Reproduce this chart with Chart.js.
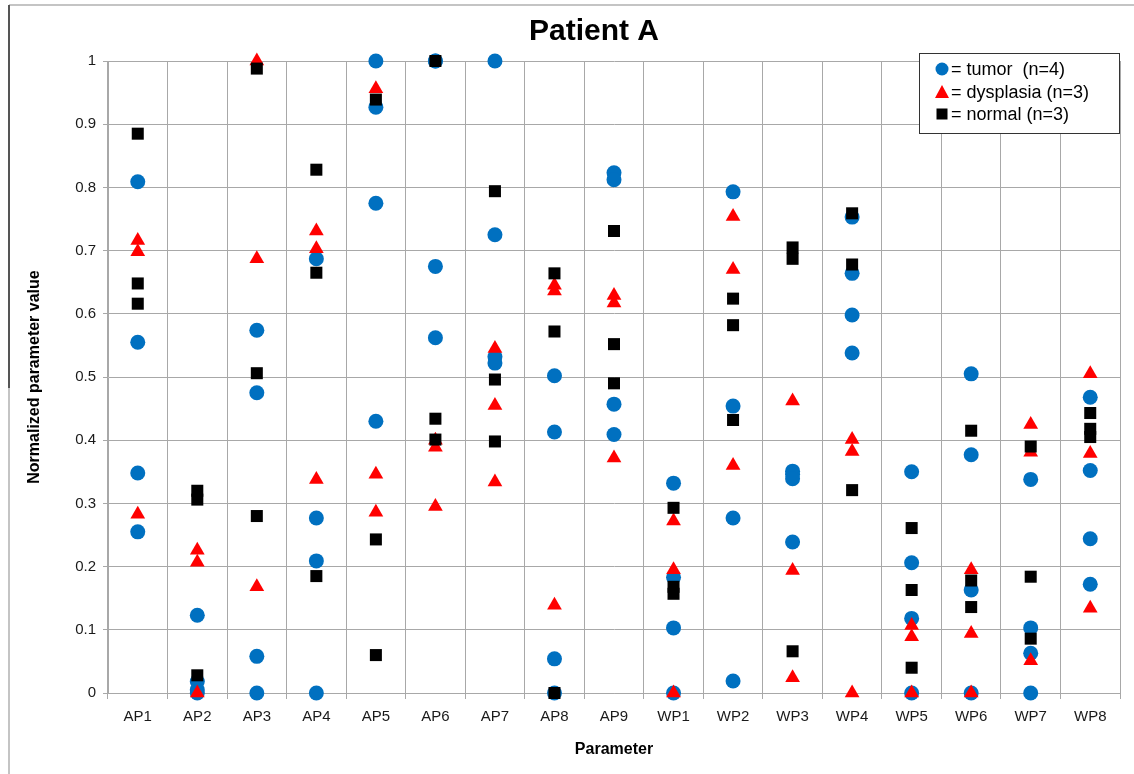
<!DOCTYPE html>
<html lang="en">
<head>
<meta charset="UTF-8">
<title>Patient A</title>
<script src="https://cdn.jsdelivr.net/npm/chart.js@4.4.0/dist/chart.umd.min.js"></script>
<style>
    body { margin: 0; background: #fff; }
    #wrap { width: 1134px; height: 774px; }
</style>
</head>
<body>
<div id="wrap"><canvas id="chart" width="1134" height="774"></canvas></div>
<script>
// categories on the x axis
const categories = ["AP1","AP2","AP3","AP4","AP5","AP6","AP7","AP8","AP9",
                    "WP1","WP2","WP3","WP4","WP5","WP6","WP7","WP8"];
const yTickLabels = ["0","0.1","0.2","0.3","0.4","0.5","0.6","0.7","0.8","0.9","1"];

// one inner list per category
const tumorValues = [
    [0.809, 0.555, 0.348, 0.255],
    [0.123, 0.018, 0.005, 0.0],
    [0.574, 0.475, 0.058, 0.0],
    [0.687, 0.277, 0.209, 0.0],
    [1.0, 0.927, 0.775, 0.430],
    [1.0, 1.0, 0.675, 0.562],
    [1.0, 0.725, 0.532, 0.522],
    [0.502, 0.413, 0.054, 0.0],
    [0.823, 0.812, 0.457, 0.409],
    [0.332, 0.183, 0.103, 0.0],
    [0.793, 0.454, 0.277, 0.019],
    [0.351, 0.346, 0.339, 0.239],
    [0.753, 0.664, 0.598, 0.538],
    [0.350, 0.206, 0.118, 0.0],
    [0.505, 0.377, 0.163, 0.0],
    [0.338, 0.103, 0.063, 0.0],
    [0.468, 0.352, 0.244, 0.172]
];
const dysplasiaValues = [
    [0.716, 0.698, 0.283],
    [0.226, 0.207, 0.0],
    [1.0, 0.687, 0.168],
    [0.731, 0.703, 0.338],
    [0.956, 0.346, 0.286],
    [0.400, 0.389, 0.295],
    [0.545, 0.455, 0.334],
    [0.645, 0.636, 0.139],
    [0.629, 0.617, 0.372],
    [0.272, 0.195, 0.0],
    [0.754, 0.670, 0.360],
    [0.462, 0.194, 0.024],
    [0.401, 0.382, 0.0],
    [0.107, 0.089, 0.0],
    [0.195, 0.094, 0.0],
    [0.425, 0.381, 0.051],
    [0.505, 0.379, 0.134]
];
const normalValues = [
    [0.885, 0.648, 0.616],
    [0.320, 0.306, 0.028],
    [0.988, 0.506, 0.280],
    [0.828, 0.665, 0.185],
    [0.939, 0.243, 0.060],
    [1.0, 0.434, 0.401],
    [0.794, 0.496, 0.398],
    [0.664, 0.572, 0.0],
    [0.731, 0.552, 0.490],
    [0.293, 0.168, 0.157],
    [0.624, 0.582, 0.432],
    [0.705, 0.687, 0.066],
    [0.759, 0.678, 0.321],
    [0.261, 0.163, 0.040],
    [0.415, 0.178, 0.136],
    [0.390, 0.184, 0.086],
    [0.443, 0.418, 0.405]
];

const legendLabels = ["= tumor  (n=4)", "= dysplasia (n=3)", "= normal (n=3)"];

function toPoints(values) {
    const pts = [];
    values.forEach((list, i) => list.forEach(v => pts.push({ x: categories[i], y: v })));
    return pts;
}

const FONT = '"Liberation Sans", Arial, sans-serif';
Chart.defaults.font.family = FONT;
Chart.defaults.color = '#1a1a1a';
const gridColor = '#a8a8a8';

// title, frame and legend box drawn on the canvas
const extras = {
    id: 'extras',
    afterDraw(chart) {
        const ctx = chart.ctx;
        ctx.save();
        // outer frame
        ctx.lineWidth = 2;
        ctx.strokeStyle = '#c4c4c4';
        ctx.beginPath(); ctx.moveTo(9, 5); ctx.lineTo(1134, 5); ctx.stroke();
        ctx.beginPath(); ctx.moveTo(9, 388); ctx.lineTo(9, 774); ctx.stroke();
        ctx.strokeStyle = '#555';
        ctx.beginPath(); ctx.moveTo(9, 5); ctx.lineTo(9, 388); ctx.stroke();

        // title
        ctx.fillStyle = '#000';
        ctx.font = 'bold 30px ' + FONT;
        ctx.textAlign = 'center';
        ctx.textBaseline = 'middle';
        ctx.fillText('Patient A', 594, 32);

        // legend
        ctx.fillStyle = '#fff';
        ctx.fillRect(919, 53, 201, 81);
        ctx.lineWidth = 1;
        ctx.strokeStyle = '#333';
        ctx.strokeRect(919.5, 53.5, 200, 80);
        const ys = [69, 92, 114];
        const mx = 942;
        ctx.fillStyle = '#0070C0';
        ctx.beginPath(); ctx.arc(mx, ys[0], 6.5, 0, Math.PI * 2); ctx.fill();
        ctx.fillStyle = '#FF0000';
        ctx.beginPath();
        ctx.moveTo(mx, ys[1] - 7); ctx.lineTo(mx + 7, ys[1] + 6); ctx.lineTo(mx - 7, ys[1] + 6);
        ctx.closePath(); ctx.fill();
        ctx.fillStyle = '#000';
        ctx.fillRect(mx - 5.5, ys[2] - 5.5, 11, 11);
        ctx.font = '18px ' + FONT;
        ctx.textAlign = 'left';
        ctx.fillStyle = '#000';
        legendLabels.forEach((t, i) => ctx.fillText(t, 951, ys[i] + 1));
        ctx.restore();
    }
};

new Chart(document.getElementById('chart'), {
    type: 'scatter',
    data: {
        datasets: [{
            label: 'tumor',
            data: toPoints(tumorValues),
            pointStyle: 'circle',
            pointRadius: 7.5,
            backgroundColor: '#0070C0',
            borderColor: '#0070C0',
            borderWidth: 0,
            order: 3,
            clip: false
        }, {
            label: 'dysplasia',
            data: toPoints(dysplasiaValues),
            pointStyle: 'triangle',
            pointRadius: 8.5,
            backgroundColor: '#FF0000',
            borderColor: '#FF0000',
            borderWidth: 0,
            order: 2,
            clip: false
        }, {
            label: 'normal',
            data: toPoints(normalValues),
            pointStyle: 'rect',
            pointRadius: 8.5,
            backgroundColor: '#000000',
            borderColor: '#000000',
            borderWidth: 0,
            order: 1,
            clip: false
        }]
    },
    options: {
        responsive: false,
        devicePixelRatio: 1,
        animation: false,
        layout: { padding: { top: 61, right: 14, left: 0, bottom: 0 } },
        plugins: {
            legend: { display: false },
            title: { display: false },
            tooltip: { enabled: false }
        },
        scales: {
            x: {
                type: 'category',
                labels: categories,
                offset: true,
                grid: { offset: true, color: gridColor, tickLength: 6 },
                border: { color: gridColor },
                ticks: { font: { size: 15 }, color: '#1a1a1a', padding: 9, maxRotation: 0, autoSkip: false },
                title: {
                    display: true, text: 'Parameter', color: '#000',
                    font: { size: 16, weight: 'bold' },
                    padding: { top: 0, bottom: 15 }
                },
                afterFit: s => { s.height = 81; }
            },
            y: {
                min: 0,
                max: 1,
                grid: { color: gridColor, tickLength: 5 },
                border: { color: gridColor },
                ticks: {
                    stepSize: 0.1,
                    font: { size: 15 },
                    color: '#1a1a1a',
                    padding: 7,
                    callback: (v, i) => yTickLabels[i]
                },
                title: {
                    display: true, text: 'Normalized parameter value', color: '#000',
                    font: { size: 16, weight: 'bold' },
                    padding: { top: 25, bottom: 0 }
                },
                afterFit: s => { s.width = 108; }
            }
        }
    },
    plugins: [extras]
});
</script>
</body>
</html>
